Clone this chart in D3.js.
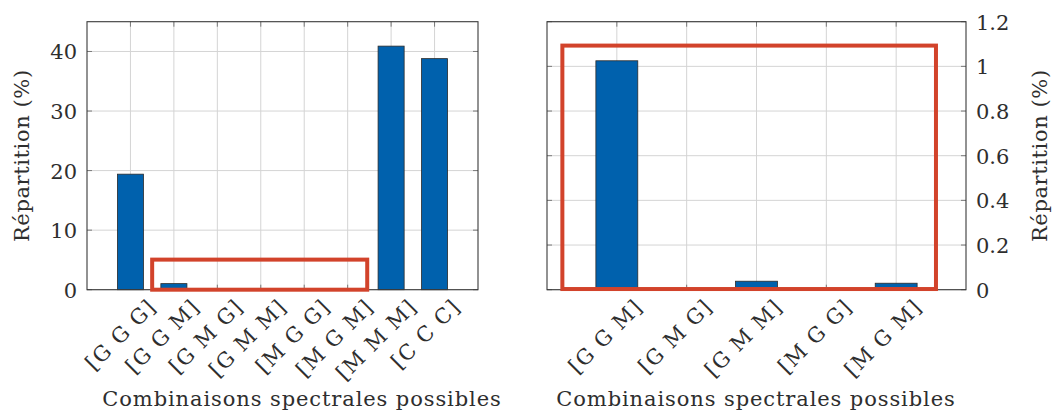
<!DOCTYPE html>
<html><head><meta charset="utf-8">
<script src="https://cdn.jsdelivr.net/npm/d3@7"></script>
<style>
html,body{margin:0;padding:0;background:#fff;}
text{font-family:"DejaVu Serif",serif;fill:#2e2e2e;}
</style></head>
<body><svg id="chart" width="1054" height="416"></svg>
<script>
// ---- data ----
const leftCategories = ["[G G G]","[G G M]","[G M G]","[G M M]","[M G G]","[M G M]","[M M M]","[C C C]"];
const leftValues = [19.4, 1.02, 0, 0.038, 0, 0.029, 40.9, 38.8];
const leftYTicks = [0, 10, 20, 30, 40];
const rightCategories = ["[G G M]","[G M G]","[G M M]","[M G G]","[M G M]"];
const rightValues = [1.025, 0, 0.038, 0, 0.029];
const rightYTicks = [0, 0.2, 0.4, 0.6, 0.8, 1, 1.2];
const yLabel = "Répartition (%)";
const xLabel = "Combinaisons spectrales possibles";
// highlight boxes (in category-index / value units)
const leftBox = {x0: 1.5, x1: 6.45, y0: 0, y1: 5.05};
const rightBox = {x0: 0.22, x1: 5.57, y0: 0.003, y1: 1.093};

const svg = d3.select("#chart");
const barColor = "#0061ad", gridColor = "#d4d4d4", axisColor = "#3a3a3a", boxColor = "#d2432b";
const fs = 21;

function panel(opts){
  const {cats, vals, ticks, yMax, x0, x1, y0, y1, side, box, fmt, titleX} = opts;
  const g = svg.append("g");
  const x = d3.scaleLinear().domain([0, cats.length+1]).range([x0, x1]);
  const y = d3.scaleLinear().domain([0, yMax]).range([y1, y0]);
  const bw = (x(1)-x(0))*0.6;
  // grid
  g.selectAll(".vg").data(cats).enter().append("line")
    .attr("x1",(d,i)=>x(i+1)).attr("x2",(d,i)=>x(i+1)).attr("y1",y0).attr("y2",y1)
    .attr("stroke",gridColor).attr("stroke-width",1);
  g.selectAll(".hg").data(ticks).enter().append("line")
    .attr("x1",x0).attr("x2",x1).attr("y1",d=>y(d)).attr("y2",d=>y(d))
    .attr("stroke",gridColor).attr("stroke-width",1);
  // ticks (inward, both sides)
  const tl = 5;
  ticks.forEach(t=>{
    g.append("line").attr("x1",x0).attr("x2",x0+tl).attr("y1",y(t)).attr("y2",y(t)).attr("stroke","#7a7a7a");
    g.append("line").attr("x1",x1).attr("x2",x1-tl).attr("y1",y(t)).attr("y2",y(t)).attr("stroke","#7a7a7a");
  });
  cats.forEach((c,i)=>{
    g.append("line").attr("x1",x(i+1)).attr("x2",x(i+1)).attr("y1",y1).attr("y2",y1-tl).attr("stroke","#7a7a7a");
    g.append("line").attr("x1",x(i+1)).attr("x2",x(i+1)).attr("y1",y0).attr("y2",y0+tl).attr("stroke","#7a7a7a");
  });
  // bars
  g.selectAll(".bar").data(vals).enter().append("rect")
    .attr("x",(d,i)=>x(i+1)-bw/2).attr("width",bw)
    .attr("y",d=>y(d)).attr("height",d=>y(0)-y(d))
    .attr("fill",barColor).attr("stroke",d=>d>0?"#2b2b2b":"none").attr("stroke-width",0.8);
  // frame
  g.append("rect").attr("x",x0).attr("y",y0).attr("width",x1-x0).attr("height",y1-y0)
    .attr("fill","none").attr("stroke",axisColor).attr("stroke-width",1.1);
  // y tick labels
  g.selectAll(".yl").data(ticks).enter().append("text")
    .attr("x", side==="left" ? x0-10 : x1+10)
    .attr("y", d=>y(d)).attr("dy","0.38em")
    .attr("text-anchor", side==="left" ? "end" : "start")
    .attr("font-size",fs).text(fmt);
  // x tick labels rotated
  g.selectAll(".xl").data(cats).enter().append("text")
    .attr("transform",(d,i)=>`translate(${x(i+1)+22},${y1+13}) rotate(-45)`)
    .attr("text-anchor","end").attr("dy","0.35em")
    .attr("letter-spacing",1.4)
    .attr("font-size",fs).text(d=>d);
  // axis titles
  g.append("text")
    .attr("transform", `translate(${side==="left" ? x0-65 : x1+74},${(y0+y1)/2}) rotate(-90)`)
    .attr("text-anchor","middle").attr("dy","0.35em").attr("letter-spacing",0.6)
    .attr("font-size",fs).text(yLabel);
  g.append("text").attr("x",titleX).attr("y",406)
    .attr("text-anchor","middle").attr("letter-spacing",0.9)
    .attr("font-size",fs).text(xLabel);
  // highlight box
  g.append("rect").attr("x",x(box.x0)).attr("y",y(box.y1))
    .attr("width",x(box.x1)-x(box.x0)).attr("height",y(box.y0)-y(box.y1))
    .attr("fill","none").attr("stroke",boxColor).attr("stroke-width",4);
}

panel({cats:leftCategories, vals:leftValues, ticks:leftYTicks, yMax:45,
  x0:87, x1:478, y0:21.7, y1:289.7, side:"left", box:leftBox, fmt:d=>d, titleX:302});
panel({cats:rightCategories, vals:rightValues, ticks:rightYTicks, yMax:1.2,
  x0:547, x1:966, y0:21.7, y1:289.7, side:"right", box:rightBox, fmt:d=>d, titleX:756});
</script></body></html>
